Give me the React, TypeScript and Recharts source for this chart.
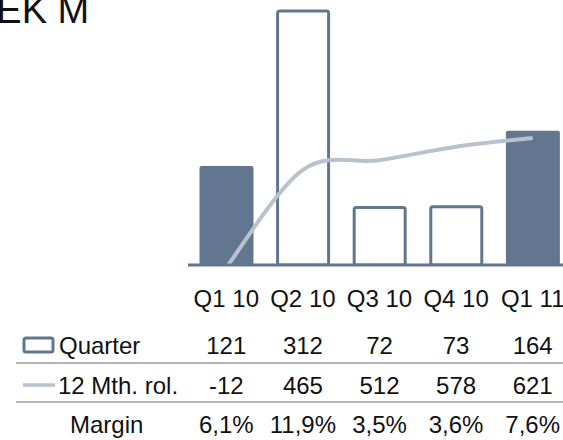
import { Bar, ComposedChart, Line, XAxis, YAxis } from 'recharts';

const categories = ['Q1 10', 'Q2 10', 'Q3 10', 'Q4 10', 'Q1 11'];
const quarterValues = [121, 312, 72, 73, 164];
const rollingValues = [-12, 465, 512, 578, 621];
const marginLabels = ['6,1%', '11,9%', '3,5%', '3,6%', '7,6%'];
// current-year quarters are drawn solid, the rest as outlines
const solidQuarters = [true, false, false, false, true];

const BAR_COLOR = '#62778f';
const LINE_COLOR = '#b8c2ce';
const RULE_COLOR = '#b4b4b4';
const FONT = '"Liberation Sans", Arial, sans-serif';

// baselines of the label row and the three table rows
const LABEL_Y = 307;
const QUARTER_Y = 354;
const ROLLING_Y = 394;
const MARGIN_Y = 433;

const data = categories.map((name, i) => ({
  name,
  quarter: quarterValues[i],
  rolling: rollingValues[i],
  solid: solidQuarters[i],
}));

// Catmull-Rom smoothing, closer to the office-style "smoothed line" than monotone
const catmullRom = (context: any) => {
  let pts: number[][] = [];
  return {
    areaStart() {},
    areaEnd() {},
    lineStart() {
      pts = [];
    },
    point(x: number, y: number) {
      pts.push([+x, +y]);
    },
    lineEnd() {
      if (!pts.length) return;
      context.moveTo(pts[0][0], pts[0][1]);
      for (let i = 0; i < pts.length - 1; i++) {
        const p0 = pts[i - 1] || pts[i];
        const p1 = pts[i];
        const p2 = pts[i + 1];
        const p3 = pts[i + 2] || pts[i + 1];
        context.bezierCurveTo(
          p1[0] + (p2[0] - p0[0]) / 6,
          p1[1] + (p2[1] - p0[1]) / 6,
          p2[0] - (p3[0] - p1[0]) / 6,
          p2[1] - (p3[1] - p1[1]) / 6,
          p2[0],
          p2[1],
        );
      }
    },
  };
};

const QuarterBar = (props: any) => {
  const { x, y, width, height, payload } = props;
  if (payload?.solid) {
    return <rect x={x} y={y} width={width} height={height} rx={2} fill={BAR_COLOR} />;
  }
  return (
    <rect
      x={x + 1.5}
      y={y + 1.5}
      width={width - 3}
      height={height - 1.5}
      rx={2}
      fill="#fff"
      stroke={BAR_COLOR}
      strokeWidth={3}
    />
  );
};

const TableTick = (props: any) => {
  const { x, payload } = props;
  const i = payload?.index ?? categories.indexOf(payload?.value);
  const cell = (y: number, text: string | number) => (
    <text x={x} y={y} textAnchor="middle" fontSize={24} fill="#111" fontFamily={FONT}>
      {text}
    </text>
  );
  return (
    <g>
      {cell(LABEL_Y, categories[i])}
      {cell(QUARTER_Y, quarterValues[i])}
      {cell(ROLLING_Y, rollingValues[i])}
      {cell(MARGIN_Y, marginLabels[i])}
    </g>
  );
};

export default function App() {
  return (
    <div
      style={{
        position: 'absolute',
        left: 0,
        top: 0,
        width: 563,
        height: 440,
        overflow: 'hidden',
        background: '#fff',
        fontFamily: FONT,
      }}
    >
      <div style={{ position: 'absolute', left: 0, top: 0 }}>
        <ComposedChart
          width={580}
          height={440}
          data={data}
          margin={{ top: 3, right: 9, bottom: 0, left: 188 }}
          barCategoryGap="15%"
        >
          <XAxis
            dataKey="name"
            height={175}
            interval={0}
            tickLine={false}
            axisLine={{ stroke: BAR_COLOR, strokeWidth: 3 }}
            tick={<TableTick />}
          />
          <YAxis yAxisId="left" hide domain={[0, 320]} allowDataOverflow />
          <YAxis yAxisId="right" orientation="right" hide domain={[0, 1280]} allowDataOverflow />
          <Bar yAxisId="left" dataKey="quarter" shape={<QuarterBar />} isAnimationActive={false} />
          <Line
            yAxisId="right"
            type={catmullRom as any}
            dataKey="rolling"
            stroke={LINE_COLOR}
            strokeWidth={4}
            dot={false}
            activeDot={false}
            isAnimationActive={false}
          />
        </ComposedChart>
      </div>
      <svg
        width={563}
        height={440}
        style={{ position: 'absolute', left: 0, top: 0, pointerEvents: 'none' }}
      >
        <text x={-29} y={23} fontSize={38} fill="#111" fontFamily={FONT}>
          SEK M
        </text>
        <rect x={24} y={338} width={29} height={14} rx={2} fill="#fff" stroke={BAR_COLOR} strokeWidth={3} />
        <text x={59} y={QUARTER_Y} fontSize={24} fill="#111" fontFamily={FONT}>
          Quarter
        </text>
        <line x1={16} x2={563} y1={363} y2={363} stroke={RULE_COLOR} strokeWidth={2} />
        <line x1={23} x2={55} y1={385} y2={385} stroke={LINE_COLOR} strokeWidth={3.5} />
        <text x={58} y={ROLLING_Y} fontSize={24} fill="#111" fontFamily={FONT}>
          12 Mth. rol.
        </text>
        <line x1={16} x2={563} y1={402} y2={402} stroke={RULE_COLOR} strokeWidth={2} />
        <text x={70} y={MARGIN_Y} fontSize={24} fill="#111" fontFamily={FONT}>
          Margin
        </text>
      </svg>
    </div>
  );
}
